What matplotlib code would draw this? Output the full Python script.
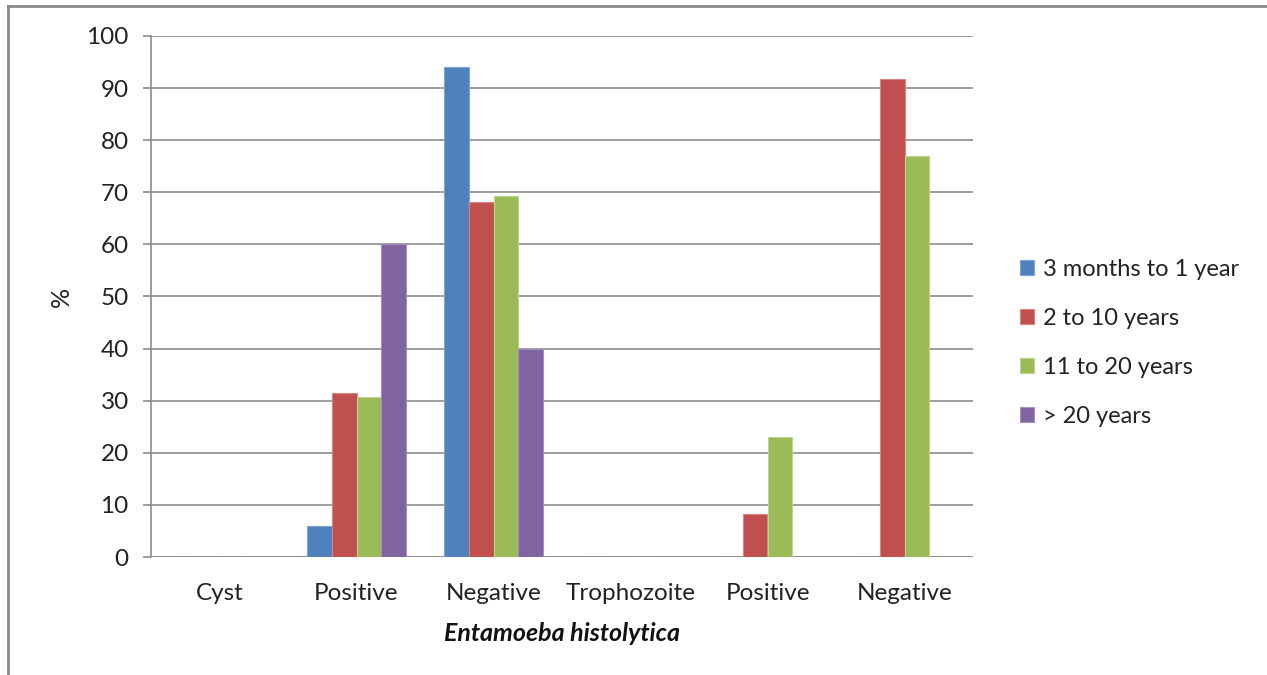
import numpy as np
import matplotlib.pyplot as plt
from matplotlib.lines import Line2D

plt.rcParams['font.family'] = ['Lato', 'DejaVu Sans']

categories = ["Cyst", "Positive", "Negative", "Trophozoite", "Positive", "Negative"]
groups = ["3 months to 1 year", "2 to 10 years", "11 to 20 years", "> 20 years"]

# percentages per age group (0 = nothing drawn)
age_3m_1y = [0, 5.9, 94.1, 0, 0, 0]
age_2_10 = [0, 31.5, 68.2, 0, 8.3, 91.7]
age_11_20 = [0, 30.8, 69.2, 0, 23.1, 76.9]
age_over_20 = [0, 60.0, 40.0, 0, 0, 0]

colors = ["#4F81BD", "#C0504D", "#9BBB59", "#8064A2"]
edges = ["#7FA4D4", "#D98683", "#BDD48D", "#A38EC0"]

series = [age_3m_1y, age_2_10, age_11_20, age_over_20]

fig = plt.figure(figsize=(12.67, 6.75), dpi=100)
ax = fig.add_axes([151 / 1267, 1 - 557 / 675, 822 / 1267, 521 / 675])

x = np.arange(len(categories))
w = 0.182
for i, (vals, name) in enumerate(zip(series, groups)):
    ax.bar(x + (i - 1.5) * w, vals, width=w, color=colors[i],
           edgecolor=edges[i], linewidth=0.8, label=name, zorder=3)

ax.set_xlim(-0.5, len(categories) - 0.5)
ax.set_ylim(0, 100)
ax.set_yticks(np.arange(0, 101, 10))
ax.yaxis.grid(True, color="#8C8C8C", linewidth=1.2, zorder=0)
ax.set_axisbelow(True)

for side in ["top", "right", "bottom"]:
    ax.spines[side].set_visible(False)
ax.spines["left"].set_color("#8C8C8C")
ax.spines["left"].set_linewidth(1.2)
ax.axhline(0, color="#8C8C8C", linewidth=1.2, zorder=2)

ax.tick_params(axis="y", length=6, width=1.2, color="#8C8C8C",
               labelsize=17.5, pad=10, labelcolor="#222222")
ax.tick_params(axis="x", length=0, labelsize=17.5, pad=18.5, labelcolor="#222222")
ax.set_xticks(x)
ax.set_xticklabels(categories)

ax.set_ylabel("%", fontsize=18, labelpad=10, color="#222222")
ax.set_xlabel("Entamoeba histolytica", fontsize=18, fontweight="bold",
              fontstyle="italic", labelpad=13, color="#111111")

ax.legend(loc="center left", bbox_to_anchor=(999 / 1267, 1 - 343 / 675),
          bbox_transform=fig.transFigure, frameon=False, fontsize=17,
          handlelength=0.6, handleheight=0.6, handletextpad=0.35,
          labelspacing=1.18, labelcolor="#222222")

# outer frame on the left and top
fig.add_artist(Line2D([8 / 1267, 8 / 1267], [0, 1 - 6 / 675],
                      transform=fig.transFigure, color="#8A8A8A", linewidth=2))
fig.add_artist(Line2D([8 / 1267, 1], [1 - 6 / 675, 1 - 6 / 675],
                      transform=fig.transFigure, color="#8A8A8A", linewidth=2))

fig.savefig("out.png", dpi=100)
